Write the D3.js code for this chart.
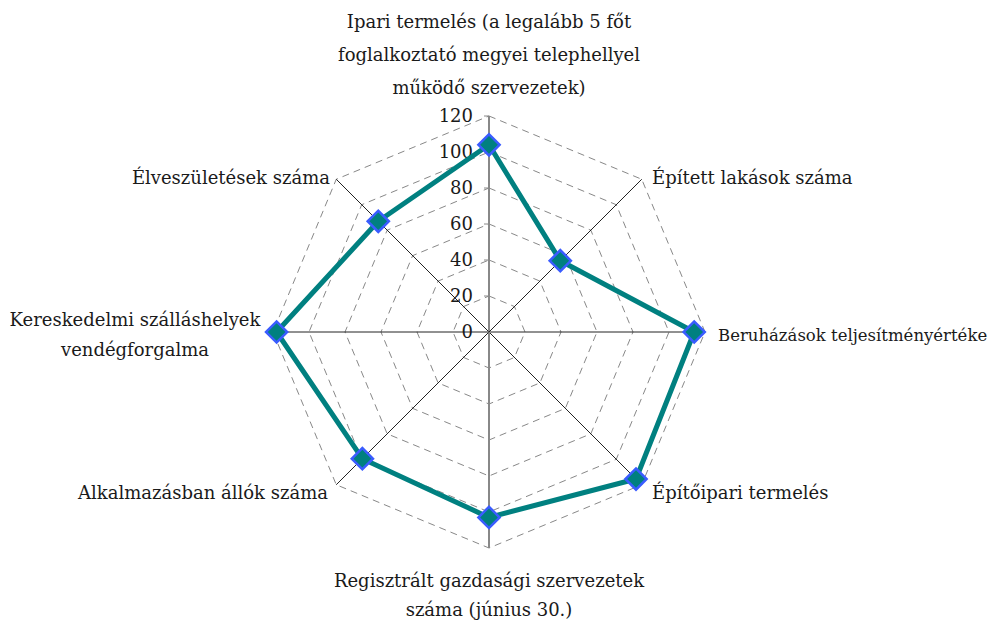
<!DOCTYPE html>
<html>
  <head>
    <meta charset="utf-8" />
    <script src="https://cdn.jsdelivr.net/npm/d3@7"></script>
    <style>
      body {
        margin: 0;
        background: #fff;
      }
    </style>
  </head>
  <body>
    <svg id="chart" width="1007" height="623"></svg>
    <script>
      // categories, clockwise from the top
      const categories = [
        ["Ipari termelés (a legalább 5 főt", "foglalkoztató megyei telephellyel", "működő szervezetek)"],
        ["Épített lakások száma"],
        ["Beruházások teljesítményértéke"],
        ["Építőipari termelés"],
        ["Regisztrált gazdasági szervezetek", "száma (június 30.)"],
        ["Alkalmazásban állók száma"],
        ["Kereskedelmi szálláshelyek", "vendégforgalma"],
        ["Élveszületések száma"],
      ];
      const values = [104, 56, 114, 115.5, 103, 99.5, 118, 87];
      const ticks = [0, 20, 40, 60, 80, 100, 120];

      const font = "'DejaVu Serif', serif";
      const fs = 18;
      const svg = d3.select("#chart");
      const cx = 489, cy = 332;
      const g = svg.append("g").attr("transform", `translate(${cx},${cy})`);

      const r = d3.scaleLinear().domain([0, 120]).range([0, 216]);
      const n = categories.length;
      const angle = (i) => (i * 2 * Math.PI) / n;
      const pt = (i, v) => [Math.sin(angle(i)) * r(v), -Math.cos(angle(i)) * r(v)];

      // dashed octagon rings
      ticks.slice(1).forEach((t) => {
        g.append("path")
          .attr("d", d3.line()(d3.range(n).map((i) => pt(i, t))) + "Z")
          .attr("fill", "none")
          .attr("stroke", "#888")
          .attr("stroke-width", 1)
          .attr("stroke-dasharray", "7,5");
      });

      // spokes; the vertical one is the gray value axis
      d3.range(n).forEach((i) => {
        const [x, y] = pt(i, 120);
        const vert = i === 0 || i === 4;
        g.append("line")
          .attr("x1", 0).attr("y1", 0)
          .attr("x2", x).attr("y2", y)
          .attr("stroke", vert ? "#888" : "#222")
          .attr("stroke-width", vert ? 2 : 1);
      });

      // value axis ticks and labels
      ticks.forEach((t) => {
        g.append("line")
          .attr("x1", -5).attr("x2", 0)
          .attr("y1", -r(t)).attr("y2", -r(t))
          .attr("stroke", "#888");
        g.append("text")
          .attr("x", -16)
          .attr("y", -r(t))
          .attr("dy", "0.35em")
          .attr("text-anchor", "end")
          .attr("font-family", font)
          .attr("font-size", fs)
          .attr("fill", "#1a1a1a")
          .text(t);
      });

      // data line
      const radial = d3.lineRadial()
        .angle((d, i) => angle(i))
        .radius((d) => r(d))
        .curve(d3.curveLinearClosed);
      g.append("path")
        .attr("d", radial(values))
        .attr("fill", "none")
        .attr("stroke", "#008080")
        .attr("stroke-width", 5)
        .attr("stroke-linejoin", "round");

      // diamond markers
      values.forEach((v, i) => {
        const [x, y] = pt(i, v);
        g.append("rect")
          .attr("x", -7.5).attr("y", -7.5)
          .attr("width", 15).attr("height", 15)
          .attr("transform", `translate(${x},${y}) rotate(45)`)
          .attr("fill", "#008080")
          .attr("stroke", "#3a5cff")
          .attr("stroke-width", 2.5);
      });

      // category labels
      const labelPos = [
        { x: 0, y: -310, anchor: "middle", lh: 33 },
        { x: 163, y: -154, anchor: "start", lh: 33 },
        { x: 229, y: 3, anchor: "start", lh: 33, size: 16.5 },
        { x: 163, y: 161, anchor: "start", lh: 33 },
        { x: 0, y: 249, anchor: "middle", lh: 29 },
        { x: -161, y: 161, anchor: "end", lh: 33 },
        { x: -354, y: -12, anchor: "middle", lh: 30 },
        { x: -159, y: -154, anchor: "end", lh: 33 },
      ];
      categories.forEach((lines, i) => {
        const p = labelPos[i];
        const t = g.append("text")
          .attr("text-anchor", p.anchor)
          .attr("font-family", font)
          .attr("font-size", p.size || fs)
          .attr("fill", "#1a1a1a");
        lines.forEach((s, k) => {
          t.append("tspan")
            .attr("x", p.x)
            .attr("y", p.y + k * p.lh)
            .attr("dy", "0.35em")
            .text(s);
        });
      });
    </script>
  </body>
</html>
